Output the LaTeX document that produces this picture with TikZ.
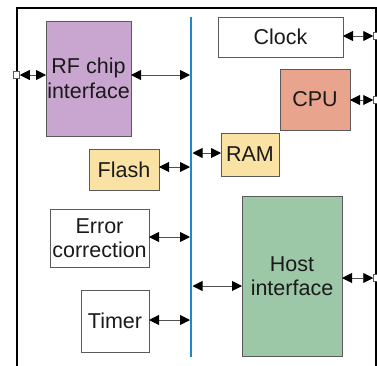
\documentclass[tikz,border=0pt]{standalone}
\usepackage{fontspec}
\setmainfont{Liberation Sans}
\usetikzlibrary{arrows.meta}
\definecolor{rfpurple}{HTML}{C9A6CF}
\definecolor{cpured}{HTML}{E8A48C}
\definecolor{memyellow}{HTML}{F9E2A4}
\definecolor{hostgreen}{HTML}{9DC8A8}
\definecolor{busblue}{HTML}{1E88C8}
\definecolor{bordergray}{HTML}{5A5A5A}
\definecolor{arrowgray}{HTML}{505050}
\definecolor{textc}{HTML}{1A1A1A}
\begin{document}
\begin{tikzpicture}[x=1pt,y=-1pt,
  blk/.style={draw=bordergray, line width=0.8pt, inner sep=0pt, outer sep=0pt,
    font=\fontsize{21.5}{24.5}\selectfont, align=center, text=textc},
  port/.style={draw=bordergray, fill=white, line width=0.7pt, minimum size=6.5pt,
    inner sep=0pt, outer sep=0pt},
  dar/.style={{Triangle[length=10pt,width=10pt,color=black]}-{Triangle[length=10pt,width=10pt,color=black]},
    draw=arrowgray, line width=0.9pt}]
\useasboundingbox (0,0) rectangle (377,365);
% frame
\draw[line width=2pt, black] (17,366) -- (17,8) -- (376,8) -- (376,366);
% bus
\coordinate (busT) at (191,17);
\coordinate (busB) at (191,357);
\draw[busblue, line width=1.8pt] (busT) -- (busB);
% blocks
\node[blk, fill=rfpurple, minimum width=85pt, minimum height=115pt] (rf) at (88.5,78.5) {RF chip\\interface};
\node[blk, fill=white, minimum width=125pt, minimum height=40pt] (clock) at (280.5,37) {Clock};
\node[blk, fill=cpured, minimum width=70pt, minimum height=61pt] (cpu) at (315,99.5) {CPU};
\node[blk, fill=memyellow, minimum width=58pt, minimum height=43pt] (ram) at (250,154.5) {RAM};
\node[blk, fill=memyellow, minimum width=70pt, minimum height=41pt] (flash) at (124,169.5) {Flash};
\node[blk, fill=white, minimum width=99pt, minimum height=58pt] (err) at (99.5,238) {Error\\correction};
\node[blk, fill=white, minimum width=68pt, minimum height=62pt] (timer) at (115,321) {Timer};
\node[blk, fill=hostgreen, minimum width=100pt, minimum height=160pt] (host) at (292,276) {Host\\interface};
% ports
\node[port] (sqL) at (16.5,75) {};
\node[port] (sqC) at (376.5,36) {};
\node[port] (sqP) at (376.5,100) {};
\node[port] (sqH) at (376.5,278) {};
% connection points on the bus
\coordinate (bRF) at (190,75);
\coordinate (bFl) at (190,167);
\coordinate (bRam) at (192.5,153);
\coordinate (bErr) at (190,237);
\coordinate (bTim) at (190,320);
\coordinate (bHost) at (192.5,286);
% arrows
\draw[dar] (sqL.east) -- (sqL.east -| rf.west);
\draw[dar] (bRF -| rf.east) -- (bRF);
\draw[dar] (sqC.west -| clock.east) -- (sqC.west);
\draw[dar] (sqP.west -| cpu.east) -- (sqP.west);
\draw[dar] (bRam) -- (bRam -| ram.west);
\draw[dar] (bFl -| flash.east) -- (bFl);
\draw[dar] (bErr -| err.east) -- (bErr);
\draw[dar] (bTim -| timer.east) -- (bTim);
\draw[dar] (bHost) -- (bHost -| host.west);
\draw[dar] (sqH.west -| host.east) -- (sqH.west);
\end{tikzpicture}
\end{document}
